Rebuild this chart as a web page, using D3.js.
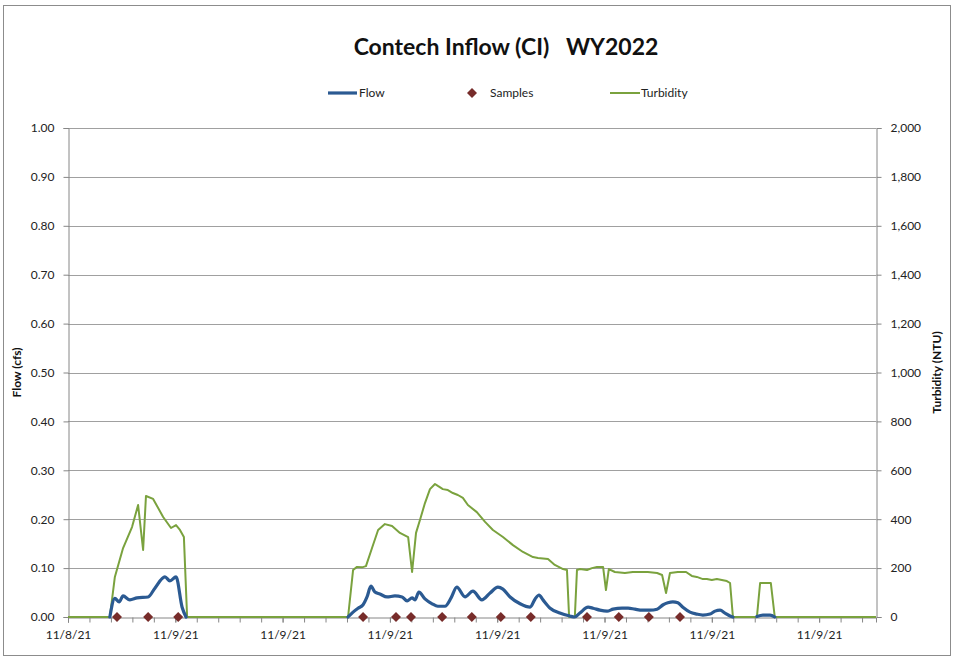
<!DOCTYPE html>
<html><head><meta charset="utf-8">
<script src="https://cdn.jsdelivr.net/npm/d3@7"></script>
<style>body{margin:0;background:#fff}svg{display:block}text{font-family:Lato,"Liberation Sans",sans-serif}</style>
</head><body><div id="chart"></div>
<script>
// x values are hours from the first axis label (11/8/21)
const xTickLabels = ["11/8/21","11/9/21","11/9/21","11/9/21","11/9/21","11/9/21","11/9/21","11/9/21"];
const xMajorStep = 3, xMinorStep = 0.6, xMax = 22.59;
const flowTicks = [0,0.1,0.2,0.3,0.4,0.5,0.6,0.7,0.8,0.9,1.0];
const turbTicks = [0,200,400,600,800,1000,1200,1400,1600,1800,2000];

const flowHours = [1.17,1.31,1.43,1.54,1.73,1.93,2.24,2.43,2.71,2.85,3.02,3.19,3.30,null,
 7.83,7.97,8.11,8.25,8.36,8.47,8.58,8.72,8.92,9.14,9.34,9.48,9.62,9.70,9.81,9.98,10.18,10.34,10.54,10.71,10.87,11.10,11.32,11.57,11.80,12.02,12.16,12.36,12.64,12.92,13.06,13.17,13.28,13.48,13.75,14.03,14.17,14.31,14.54,14.68,14.87,15.07,15.24,15.49,15.66,15.85,16.05,16.27,16.47,16.64,16.77,16.91,17.05,17.19,17.39,17.58,17.75,17.95,18.09,18.23,18.37,18.51,18.59,null,
 19.26,19.43,19.63,19.76];
const flowValues = [0,0.038,0.031,0.043,0.035,0.039,0.041,0.059,0.082,0.074,0.082,0.020,0,null,
 0,0.010,0.018,0.025,0.041,0.063,0.051,0.047,0.041,0.043,0.041,0.033,0.039,0.035,0.051,0.037,0.027,0.022,0.022,0.039,0.061,0.041,0.053,0.035,0.049,0.061,0.057,0.041,0.027,0.020,0.037,0.045,0.035,0.018,0.008,0.002,0,0.008,0.020,0.018,0.014,0.012,0.016,0.018,0.018,0.016,0.014,0.014,0.016,0.025,0.029,0.031,0.029,0.020,0.010,0.006,0.004,0.006,0.012,0.014,0.008,0.002,0,null,
 0.001,0.004,0.004,0];

const turbHours = [0,1.12,1.17,1.31,1.54,1.79,1.96,2.10,2.18,2.38,2.66,2.88,3.02,3.13,3.24,3.33,
 7.83,7.97,8.08,8.22,8.33,8.50,8.67,8.86,9.06,9.28,9.51,9.62,9.73,9.84,9.98,10.12,10.26,10.34,10.48,10.62,10.76,10.90,11.04,11.18,11.43,11.66,11.88,12.16,12.44,12.72,13.00,13.14,13.42,13.61,13.84,13.95,14.01,
 14.17,14.23,14.31,14.51,14.65,14.79,14.96,15.04,15.12,15.29,15.57,15.79,15.99,16.21,16.47,16.61,16.72,16.83,17.05,17.28,17.44,17.58,17.75,17.86,18.00,18.14,18.28,18.42,18.51,18.59,
 19.26,19.35,19.65,19.76,22.59];
const turbValues = [0,0,0,164,282,368,458,274,495,483,409,364,376,356,327,0,
 0,192,205,203,208,282,356,380,372,344,327,184,344,397,466,523,544,536,523,519,507,499,487,458,429,389,356,327,294,266,245,241,237,213,196,192,0,
 0,192,196,192,200,205,205,110,196,184,180,184,184,184,180,172,98,180,184,184,168,164,155,155,151,155,151,147,139,0,
 0,139,139,0,0];

const sampleHours = [1.37,2.24,3.08,8.25,9.17,9.59,10.46,11.29,12.10,12.94,14.51,15.40,16.24,17.11];
const sampleValues = sampleHours.map(() => 0);

const W = 954, H = 658;
const m = {l:68, r:876, t:128, b:617};
const svg = d3.select("#chart").append("svg").attr("width", W).attr("height", H);

svg.append("rect").attr("x",3.5).attr("y",5.5).attr("width",947).attr("height",650)
  .attr("fill","#fff").attr("stroke","#8c8c8c").attr("stroke-width",1);

const x = d3.scaleLinear().domain([0, xMax]).range([m.l, m.r]);
const yL = d3.scaleLinear().domain([0, 1]).range([m.b, m.t]);
const yR = d3.scaleLinear().domain([0, 2000]).range([m.b, m.t]);

// gridlines
svg.append("g").selectAll("line").data(flowTicks.slice(1)).join("line")
  .attr("x1", m.l).attr("x2", m.r).attr("y1", d => Math.round(yL(d))+0.5).attr("y2", d => Math.round(yL(d))+0.5)
  .attr("stroke", "#a0a0a0").attr("stroke-width", 1);

// left axis
svg.append("g").attr("transform", `translate(${m.l+0.5},0)`)
  .call(d3.axisLeft(yL).tickValues(flowTicks).tickFormat(d3.format(".2f")).tickSize(5).tickPadding(9));
// right axis
svg.append("g").attr("transform", `translate(${m.r+0.5},0)`)
  .call(d3.axisRight(yR).tickValues(turbTicks).tickFormat(d3.format(",")).tickSize(5).tickPadding(9));
// bottom axis
const minorTicks = d3.range(0, xMax + 1e-6, xMinorStep);
const majorTicks = xTickLabels.map((_, i) => i * xMajorStep);
svg.append("g").attr("transform", `translate(0,${m.b+0.5})`)
  .call(d3.axisBottom(x).tickValues(minorTicks).tickFormat("").tickSize(5));
svg.append("g").attr("transform", `translate(0,${m.b+0.5})`)
  .call(d3.axisBottom(x).tickValues(majorTicks).tickFormat((d,i) => xTickLabels[i]).tickSize(5).tickPadding(8))
  .call(g => g.select(".domain").remove());

svg.selectAll(".domain").attr("stroke", "#868686");
svg.selectAll(".tick line").attr("stroke", "#868686");
svg.selectAll(".tick text").attr("fill", "#222").attr("font-size", 12);

// turbidity line
const turb = turbHours.map((h, i) => ({h, v: turbValues[i]}));
svg.append("path").datum(turb)
  .attr("fill", "none").attr("stroke", "#7aa23e").attr("stroke-width", 2).attr("stroke-linejoin", "round")
  .attr("d", d3.line().x(d => x(d.h)).y(d => yR(d.v)));

// flow line
const flow = flowHours.map((h, i) => ({h, v: flowValues[i]}));
svg.append("path").datum(flow)
  .attr("fill", "none").attr("stroke", "#2b5a92").attr("stroke-width", 3.2).attr("stroke-linejoin", "round").attr("stroke-linecap","round")
  .attr("d", d3.line().defined(d => d.h !== null && d.v !== null).x(d => x(d.h)).y(d => yL(d.v)).curve(d3.curveMonotoneX));

// samples (square rotated 45 degrees)
const diamond = d3.symbol().type(d3.symbolSquare).size(50);
svg.append("g").selectAll("path").data(sampleHours).join("path")
  .attr("transform", (d, i) => `translate(${x(d)},${yL(sampleValues[i])}) rotate(45)`)
  .attr("d", diamond).attr("fill", "#772c2a");

// title
svg.append("text").attr("x", 506).attr("y", 55).attr("text-anchor", "middle")
  .attr("font-size", 23).attr("font-weight", "bold").attr("fill", "#111")
  .style("white-space", "pre").text("Contech Inflow (CI)   WY2022");

// axis titles
svg.append("text").attr("transform", `translate(21,${(m.t+m.b)/2}) rotate(-90)`)
  .attr("text-anchor", "middle").attr("font-size", 12).attr("font-weight", "bold").attr("fill", "#111").text("Flow (cfs)");
svg.append("text").attr("transform", `translate(941,${(m.t+m.b)/2}) rotate(-90)`)
  .attr("text-anchor", "middle").attr("font-size", 12).attr("font-weight", "bold").attr("fill", "#111").text("Turbidity (NTU)");

// legend
const lg = svg.append("g").attr("font-size", 12).attr("fill", "#222");
lg.append("line").attr("x1", 328).attr("x2", 357).attr("y1", 93).attr("y2", 93).attr("stroke", "#2b5a92").attr("stroke-width", 3.2);
lg.append("text").attr("x", 359).attr("y", 97).text("Flow");
lg.append("path").attr("transform", "translate(472,93) rotate(45)").attr("d", diamond).attr("fill", "#772c2a");
lg.append("text").attr("x", 490).attr("y", 97).text("Samples");
lg.append("line").attr("x1", 610).attr("x2", 640).attr("y1", 93).attr("y2", 93).attr("stroke", "#7aa23e").attr("stroke-width", 2);
lg.append("text").attr("x", 641).attr("y", 97).text("Turbidity");
</script></body></html>
